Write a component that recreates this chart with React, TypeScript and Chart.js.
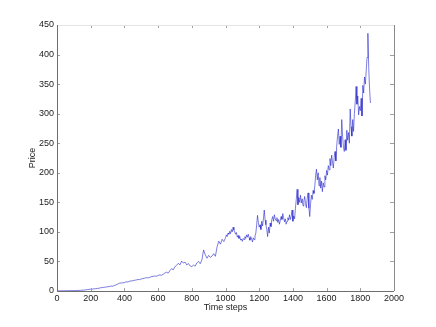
import React, { useEffect, useRef } from "react";
import { Chart, registerables } from "chart.js";

Chart.register(...registerables);

const earlySteps = [
  0, 10, 20, 30, 40, 50, 60, 70, 80, 90, 100, 110, 120, 130, 140, 150, 160, 170, 180, 190,
  200, 210, 220, 230, 240, 250, 260, 270, 280, 290, 300, 310, 320, 330, 340, 350, 360, 370, 380, 390,
  400, 410, 420, 430, 440, 450, 460, 470, 480, 490, 500, 510, 520, 530, 540, 550, 560, 570, 580, 590,
  600, 610, 620, 630, 640, 650, 660, 670, 680, 690, 700, 710, 720, 730, 740, 750, 760, 770, 780, 790,
  800, 810, 820, 830, 840, 850, 860, 870, 880, 890, 900, 910, 920, 930, 940, 950, 960, 970, 980, 990,
];
const earlyPrices = [
  0.3, 0.4, 0.3, 0.5, 0.4, 0.5, 0.6, 0.5, 0.7, 0.6, 0.8, 0.7, 0.9, 1.0, 1.1, 1.3, 1.6, 2.0, 2.4, 2.7,
  3.1, 3.3, 3.6, 3.9, 4.4, 4.7, 5.6, 5.8, 6.3, 6.7, 7.1, 7.5, 8.4, 8.1, 9.3, 10.2, 11.6, 13.1, 13.5, 13.9,
  14.3, 15.6, 15.2, 16.5, 17.0, 17.4, 18.1, 18.6, 19.5, 19.2, 20.4, 21.1, 21.7, 22.5, 22.2, 23.1, 24.2, 24.7, 25.4, 25.0,
  26.3, 27.1, 26.6, 28.2, 30.4, 31.8, 30.2, 34.6, 37.9, 35.8, 41.2, 43.5, 46.8, 44.2, 50.6, 47.3, 48.9, 44.1, 46.5, 42.3,
  41.2, 43.8, 42.0, 47.4, 50.1, 46.2, 52.8, 69.5, 61.3, 55.4, 60.2, 56.8, 59.0, 63.1, 58.7, 74.6, 84.3, 79.2, 87.5, 83.6,
];

const lateSteps = [
  1000, 1005, 1010, 1015, 1020, 1025, 1030, 1035, 1040, 1045, 1050, 1055, 1060, 1065, 1070, 1075, 1080, 1085, 1090, 1095,
  1100, 1105, 1110, 1115, 1120, 1125, 1130, 1135, 1140, 1145, 1150, 1155, 1160, 1165, 1170, 1175, 1180, 1185, 1190, 1195,
  1200, 1205, 1210, 1215, 1220, 1225, 1230, 1235, 1240, 1245, 1250, 1255, 1260, 1265, 1270, 1275, 1280, 1285, 1290, 1295,
  1300, 1305, 1310, 1315, 1320, 1325, 1330, 1335, 1340, 1345, 1350, 1355, 1360, 1365, 1370, 1375, 1380, 1385, 1390, 1395,
  1400, 1405, 1410, 1415, 1420, 1425, 1430, 1435, 1440, 1445, 1450, 1455, 1460, 1465, 1470, 1475, 1480, 1485, 1490, 1495,
  1500, 1505, 1510, 1515, 1520, 1525, 1530, 1535, 1540, 1545, 1550, 1555, 1560, 1565, 1570, 1575, 1580, 1585, 1590, 1595,
  1600, 1605, 1610, 1615, 1620, 1625, 1630, 1635, 1640, 1645, 1650, 1655, 1660, 1665, 1670, 1675, 1680, 1685, 1690, 1695,
  1700, 1705, 1710, 1715, 1720, 1725, 1730, 1735, 1740, 1745, 1750, 1755, 1760, 1765, 1770, 1775, 1780, 1785, 1790, 1795,
  1800, 1805, 1810, 1815, 1820, 1825, 1830, 1835, 1840, 1845, 1850, 1855, 1860,
];
const latePrices = [
  90, 95, 92, 98, 96, 101, 97, 104, 100, 108, 103, 100, 96, 99, 91, 94, 89, 92, 86, 88,
  84, 89, 87, 92, 89, 95, 91, 96, 90, 86, 92, 88, 83, 90, 87, 93, 98, 112, 128, 116,
  108, 112, 104, 118, 110, 122, 137, 120, 112, 104, 92, 108, 98, 115, 109, 121, 126, 118, 129, 122,
  119, 124, 116, 121, 113, 119, 126, 121, 131, 124, 117, 122, 113, 118, 124, 120, 129, 121, 126, 137,
  118, 127, 122, 140, 155, 172, 146, 158, 150, 162, 149, 156, 144, 152, 160, 148, 141, 157, 166, 140,
  126, 148, 162, 155, 170, 165, 178, 196, 206, 188, 200, 178, 192, 174, 186, 168, 183, 176, 195, 188,
  204, 196, 212, 205, 224, 212, 230, 218, 208, 226, 236, 220, 245, 262, 274, 248, 262, 243, 290, 262,
  244, 236, 256, 238, 272, 255, 268, 250, 308, 278, 262, 290, 270, 300, 320, 346, 316, 330, 298, 312,
  305, 326, 296, 348, 335, 362, 350, 372, 395, 436, 378, 342, 318,
];

const xTicks = [0, 200, 400, 600, 800, 1000, 1200, 1400, 1600, 1800, 2000];
const yTicks = [0, 50, 100, 150, 200, 250, 300, 350, 400, 450];

const FONT = { family: "'Liberation Sans', Arial, sans-serif", size: 9 };

const boxPlugin = {
  id: "matlabBox",
  afterDraw(chart: any) {
    const { ctx, chartArea } = chart;
    const { left, right, top, bottom } = chartArea;
    const xs = chart.scales.x;
    const ys = chart.scales.y;
    ctx.save();
    ctx.lineWidth = 1;
    ctx.strokeStyle = "#a0a0a0";
    ctx.beginPath();
    xTicks.forEach((t) => {
      const px = Math.round(xs.getPixelForValue(t)) + 0.5;
      ctx.moveTo(px, bottom);
      ctx.lineTo(px, bottom - 3);
      ctx.moveTo(px, top);
      ctx.lineTo(px, top + 3);
    });
    yTicks.forEach((t) => {
      const py = Math.round(ys.getPixelForValue(t)) + 0.5;
      ctx.moveTo(left, py);
      ctx.lineTo(left + 3, py);
      ctx.moveTo(right, py);
      ctx.lineTo(right - 4, py);
    });
    ctx.stroke();
    ctx.strokeStyle = "#e4e4e4";
    ctx.beginPath();
    ctx.moveTo(left, Math.round(top) + 0.5);
    ctx.lineTo(right, Math.round(top) + 0.5);
    ctx.stroke();
    ctx.strokeStyle = "#8a8a8a";
    ctx.beginPath();
    ctx.moveTo(Math.round(right) + 0.5, top);
    ctx.lineTo(Math.round(right) + 0.5, bottom);
    ctx.stroke();
    ctx.strokeStyle = "#6e6e6e";
    ctx.beginPath();
    ctx.moveTo(Math.round(left) + 0.5, top);
    ctx.lineTo(Math.round(left) + 0.5, Math.round(bottom) + 0.5);
    ctx.lineTo(right, Math.round(bottom) + 0.5);
    ctx.stroke();
    ctx.restore();
  },
};

export default function App() {
  const canvasRef = useRef<HTMLCanvasElement | null>(null);

  useEffect(() => {
    document.body.style.margin = "0";
    const canvas = canvasRef.current;
    if (!canvas) return;
    const steps = [...earlySteps, ...lateSteps];
    const prices = [...earlyPrices, ...latePrices];
    const chart = new Chart(canvas, {
      type: "line",
      data: {
        datasets: [
          {
            data: steps.map((t, i) => ({ x: t, y: prices[i] })),
            borderColor: "rgba(30, 30, 200, 0.72)",
            borderWidth: 0.8,
            pointRadius: 0,
            tension: 0,
            fill: false,
          },
        ],
      },
      options: {
        animation: false,
        responsive: false,
        events: [],
        layout: { padding: { left: 0, top: 25, right: 42, bottom: 14 } },
        plugins: { legend: { display: false }, tooltip: { enabled: false } },
        scales: {
          x: {
            type: "linear",
            min: 0,
            max: 2000,
            afterBuildTicks: (scale: any) => {
              scale.ticks = xTicks.map((v) => ({ value: v }));
            },
            afterFit: (scale: any) => {
              scale.height = 22;
            },
            grid: { display: false, drawTicks: false },
            border: { display: false },
            ticks: {
              color: "#222",
              font: FONT,
              padding: 2,
              maxRotation: 0,
              autoSkip: false,
              callback: (v: any) => String(v),
            },
            title: { display: true, text: "Time steps", color: "#222", font: FONT, padding: { top: 0, bottom: 0 } },
          },
          y: {
            type: "linear",
            min: 0,
            max: 450,
            afterBuildTicks: (scale: any) => {
              scale.ticks = yTicks.map((v) => ({ value: v }));
            },
            afterFit: (scale: any) => {
              scale.width = 57;
            },
            grid: { display: false, drawTicks: false },
            border: { display: false },
            ticks: { color: "#222", font: FONT, padding: 3, autoSkip: false, callback: (v: any) => String(v) },
            title: { display: true, text: "Price", color: "#222", font: FONT, padding: { top: 27, bottom: 0 } },
          },
        },
      },
      plugins: [boxPlugin],
    });
    return () => chart.destroy();
  }, []);

  return (
    <div style={{ position: "absolute", left: 0, top: 0, width: 436, height: 327, background: "#fff" }}>
      <canvas ref={canvasRef} width={436} height={327} style={{ display: "block" }} />
    </div>
  );
}
